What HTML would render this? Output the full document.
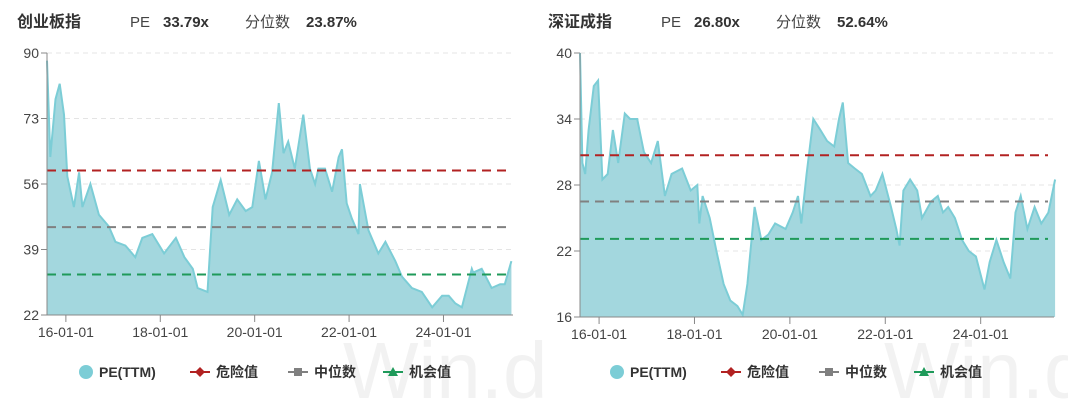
<!DOCTYPE html>
<html><head><meta charset="utf-8"><style>
body{margin:0;width:1068px;height:400px;background:#fff;overflow:hidden;font-family:"Liberation Sans","Noto Sans CJK SC",sans-serif;}
svg{position:absolute;left:0;top:0}
</style></head><body>
<svg id="c" width="1068" height="400"></svg>
<script>
const leftYears=[2015.6,2015.67,2015.78,2015.87,2015.96,2016.03,2016.17,2016.28,2016.35,2016.52,2016.7,2016.91,2017.05,2017.26,2017.47,2017.62,2017.83,2018.08,2018.33,2018.51,2018.69,2018.79,2019.0,2019.11,2019.28,2019.46,2019.63,2019.81,2019.95,2020.09,2020.23,2020.37,2020.51,2020.61,2020.71,2020.85,2021.03,2021.17,2021.28,2021.35,2021.49,2021.64,2021.78,2021.85,2021.95,2022.06,2022.2,2022.23,2022.41,2022.62,2022.77,2022.98,2023.12,2023.33,2023.54,2023.76,2023.97,2024.11,2024.25,2024.39,2024.6,2024.63,2024.81,2025.02,2025.2,2025.3,2025.44];
const leftVals=[88,63,78,82,74,58,50,59,50,56,48,45,41,40,37,42,43,38,42,37,34,29,28,50,57,48,52,49,50,62,52,59,77,64,67,60,74,60,56,60,60,54,63,65,51,47,43,56,44,38,41,36,32,29,28,24,27,27,25,24,34,33,34,29,30,30,36];
const rightPts=[[145,40],[152,30],[160,29],[170,33],[185,37],[197,37.5],[210,28.5],[225,29],[240,33],[255,30],[275,34.5],[290,34],[310,34],[330,31],[350,30],[370,32],[390,27],[410,29],[440,29.5],[465,27.5],[485,28],[490,24.5],[500,27],[520,25],[540,22],[560,19],[580,17.5],[600,17],[615,16.2],[630,19],[650,26],[670,23],[690,23.5],[710,24.5],[740,24],[760,25.5],[775,27],[785,24.5],[800,29],[820,34],[840,33],[860,32],[880,31.5],[895,34],[905,35.5],[920,30],[940,29.5],[960,29],[985,27],[1000,27.5],[1020,29],[1045,26],[1060,24],[1070,22.5],[1080,27.5],[1100,28.5],[1120,27.5],[1135,25],[1160,26.5],[1180,27],[1195,25.5],[1210,26],[1230,25],[1250,23],[1270,22],[1290,21.5],[1315,18.5],[1330,21],[1350,23],[1370,21],[1390,19.5],[1405,25.5],[1420,27],[1440,24],[1460,26],[1480,24.5],[1500,25.5],[1520,28.5]];
const rightYears=rightPts.map(p=>+(2015.6+(p[0]-145)/138).toFixed(2));
const rightVals=rightPts.map(p=>p[1]);
const xTickLabels=["16-01-01","18-01-01","20-01-01","22-01-01","24-01-01"];
const xTickYears=[2016,2018,2020,2022,2024];
const leftYTicks=[22,39,56,73,90];
const rightYTicks=[16,22,28,34,40];
const leftLines=[59.5,44.8,32.5];   // danger, median, opportunity
const rightLines=[30.7,26.5,23.1];
const leftHeader=["创业板指","33.79x","23.87%"];
const rightHeader=["深证成指","26.80x","52.64%"];

const svg=document.getElementById('c');
const NS="http://www.w3.org/2000/svg";
function mk(t,a,p){const e=document.createElementNS(NS,t);for(const k in a)e.setAttribute(k,a[k]);(p||svg).appendChild(e);return e;}
function txt(x,y,s,a,p){const e=mk('text',Object.assign({x:x,y:y},a),p);e.textContent=s;return e;}

function chart(o){
  const g=mk('g',{});
  
  
  const x0=o.x0,x1=o.x1,yT=53,yB=o.yB,yMin=o.ticks[0],yMax=o.ticks[o.ticks.length-1];
  const xs=yr=>x0+(yr-2015.6)*o.pxYear;
  const ys=v=>yB-(v-yMin)/(yMax-yMin)*(yB-yT);
  const h=txt(o.hx,27,o.header[0],{'font-size':16,'font-weight':'bold',fill:'#333'},g);
  
  txt(o.hx+113,27,'PE',{'font-size':15,fill:'#444'},g);
  const pe=txt(o.hx+146,27,o.header[1],{'font-size':15,'font-weight':'bold',fill:'#333'},g);
  
  txt(o.hx+228,27,'分位数',{'font-size':15,fill:'#444'},g);
  const pc=txt(o.hx+289,27,o.header[2],{'font-size':15,'font-weight':'bold',fill:'#333'},g);
  
  const wm=txt(o.x1-170,398,'Win.d',{'font-size':80,fill:'#f2f2f2'},g);
  
  o.ticks.forEach(t=>{
    if(t!==yMin){const l=mk('line',{x1:x0,x2:x1,y1:ys(t),y2:ys(t),stroke:'#e4e4e4','stroke-dasharray':'5,4'},g);
    }
    mk('line',{x1:x0-6,x2:x0,y1:ys(t),y2:ys(t),stroke:'#888'},g);
    const tl=txt(x0-8,ys(t)+5,t,{'font-size':14,fill:'#444','text-anchor':'end'},g);
    
  });
  let d='M'+xs(o.years[0])+','+yB;
  o.years.forEach((yr,i)=>{d+=' L'+xs(yr).toFixed(1)+','+ys(o.vals[i]).toFixed(1);});
  d+=' L'+xs(o.years[o.years.length-1])+','+yB+' Z';
  const a=mk('path',{d:d,fill:'#a3d7de',stroke:'none'},g);
  
  let d2='';o.years.forEach((yr,i)=>{d2+=(i?' L':'M')+xs(yr).toFixed(1)+','+ys(o.vals[i]).toFixed(1);});
  const ln=mk('path',{d:d2,fill:'none',stroke:'#7ccdd6','stroke-width':2},g);
  
  const cols=['#b22222','#808080','#1f9a5a'],nm=['danger-line','median-line','opportunity-line'];
  o.lines.forEach((v,i)=>{const l=mk('line',{x1:x0,x2:x1-6,y1:ys(v),y2:ys(v),stroke:cols[i],'stroke-width':2,'stroke-dasharray':'9,6'},g);
    });
  mk('line',{x1:x0,x2:x0,y1:yT,y2:yB,stroke:'#888'},g);
  mk('line',{x1:x0,x2:x1,y1:yB,y2:yB,stroke:'#888'},g);
  xTickYears.forEach((yr,i)=>{
    mk('line',{x1:xs(yr),x2:xs(yr),y1:yB,y2:yB+7,stroke:'#888'},g);
    const t=txt(xs(yr),yB+22,xTickLabels[i],{'font-size':14,fill:'#444','text-anchor':'middle'},g);
    
  });
  const lx=o.legendX,ly=377;
  const lg=mk('g',{},g);
  mk('circle',{cx:lx,cy:ly-5,r:7,fill:'#7ccdd6'},lg);
  txt(lx+13,ly,'PE(TTM)',{'font-size':14,'font-weight':'bold',fill:'#333'},lg);
  mk('line',{x1:lx+104,x2:lx+124,y1:ly-5,y2:ly-5,stroke:'#b22222','stroke-width':2},lg);
  mk('path',{d:`M${lx+114},${ly-10} l5,5 l-5,5 l-5,-5z`,fill:'#b22222'},lg);
  txt(lx+130,ly,'危险值',{'font-size':14,'font-weight':'bold',fill:'#333'},lg);
  mk('line',{x1:lx+202,x2:lx+222,y1:ly-5,y2:ly-5,stroke:'#808080','stroke-width':2},lg);
  mk('rect',{x:lx+208,y:ly-9,width:8,height:8,fill:'#808080'},lg);
  txt(lx+228,ly,'中位数',{'font-size':14,'font-weight':'bold',fill:'#333'},lg);
  mk('line',{x1:lx+297,x2:lx+317,y1:ly-5,y2:ly-5,stroke:'#1f9a5a','stroke-width':2},lg);
  mk('path',{d:`M${lx+307},${ly-10} l5,9 l-10,0z`,fill:'#1f9a5a'},lg);
  txt(lx+323,ly,'机会值',{'font-size':14,'font-weight':'bold',fill:'#333'},lg);
}
chart({name:'chinext-chart',x0:47,x1:513,yB:315,pxYear:47.2,ticks:leftYTicks,years:leftYears,vals:leftVals,lines:leftLines,header:leftHeader,hx:17,legendX:86});
chart({name:'szse-component-chart',x0:580,x1:1054,yB:317,pxYear:47.7,ticks:rightYTicks,years:rightYears,vals:rightVals,lines:rightLines,header:rightHeader,hx:548,legendX:617});
</script>
</body></html>
